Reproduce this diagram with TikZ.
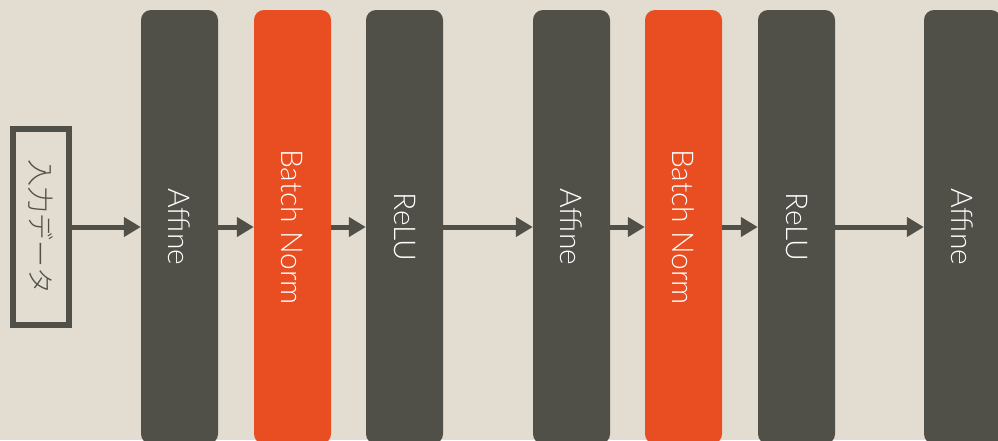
\documentclass[tikz,border=0pt]{standalone}
\usepackage{fontspec}
\setmainfont{Lato}[UprightFont=* Light]
\newfontfamily\jpfont{Noto Sans CJK JP}[UprightFont=* Light]
\usetikzlibrary{arrows.meta}
\definecolor{paper}{HTML}{E3DCD0}
\definecolor{slate}{HTML}{505048}
\definecolor{flame}{HTML}{E84E21}
\begin{document}
\begin{tikzpicture}[
            x=1pt, y=-1pt,
            layer/.style={
                rectangle,
                fill=slate,
                rounded corners=10pt,
                minimum width=77pt,
                minimum height=434pt,
                inner sep=0pt,
                text=white,
                font=\fontsize{30}{30}\selectfont
            },
            norm/.style={layer, fill=flame},
            inbox/.style={
                rectangle,
                draw=slate,
                line width=6pt,
                minimum width=56pt,
                minimum height=196pt,
                inner sep=0pt,
                text=slate,
                font=\jpfont\fontsize{27}{27}\selectfont
            },
            flow/.style={
                draw=slate,
                line width=5pt,
                -{Triangle[length=17pt,width=19pt]}
            }
        ]
            \fill[paper] (0,0) rectangle (998,440);
            \useasboundingbox (0,0) rectangle (998,440);

            \node[inbox] (in) at (41,227) {\rotatebox{-90}{入力データ}};
            \node[layer] (aff1) at (179.5,227) {\rotatebox{-90}{Affine}};
            \node[norm] (bn1) at (292.5,227) {\rotatebox{-90}{Batch Norm}};
            \node[layer] (relu1) at (404.5,227) {\rotatebox{-90}{ReLU}};
            \node[layer] (aff2) at (571.5,227) {\rotatebox{-90}{Affine}};
            \node[norm] (bn2) at (683.5,227) {\rotatebox{-90}{Batch Norm}};
            \node[layer] (relu2) at (796.5,227) {\rotatebox{-90}{ReLU}};
            \node[layer] (aff3) at (962.5,227) {\rotatebox{-90}{Affine}};

            \draw[flow, shorten <=-3pt] (in) -- (aff1);
            \draw[flow] (aff1) -- (bn1);
            \draw[flow] (bn1) -- (relu1);
            \draw[flow] (relu1) -- (aff2);
            \draw[flow] (aff2) -- (bn2);
            \draw[flow] (bn2) -- (relu2);
            \draw[flow] (relu2) -- (aff3);
        \end{tikzpicture}
\end{document}
